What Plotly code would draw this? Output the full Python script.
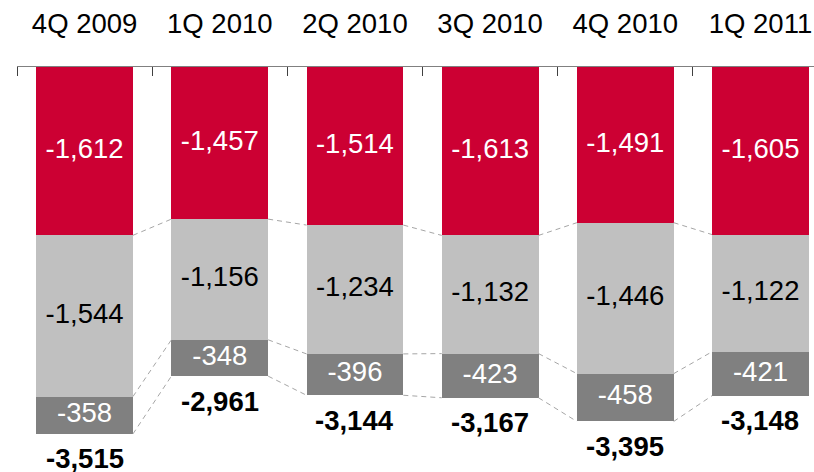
import plotly.graph_objects as go

categories = ["4Q 2009", "1Q 2010", "2Q 2010", "3Q 2010", "4Q 2010", "1Q 2011"]
red_vals = [-1612, -1457, -1514, -1613, -1491, -1605]
light_vals = [-1544, -1156, -1234, -1132, -1446, -1122]
dark_vals = [-358, -348, -396, -423, -458, -421]
totals = [-3515, -2961, -3144, -3167, -3395, -3148]

RED = "#CC0033"
LIGHT = "#C0C0C0"
DARK = "#808080"
FONT = "Liberation Sans, Arial, sans-serif"
FS = 27.5
BW = 0.716

xs = list(range(len(categories)))

fig = go.Figure()
for vals, col in [(red_vals, RED), (light_vals, LIGHT), (dark_vals, DARK)]:
    fig.add_trace(go.Bar(x=xs, y=vals, width=BW, marker=dict(color=col, line=dict(width=0)),
                         hoverinfo="skip", showlegend=False))

# cumulative levels
c1 = red_vals
c2 = [a + b for a, b in zip(red_vals, light_vals)]
c3 = [a + b + c for a, b, c in zip(red_vals, light_vals, dark_vals)]

# dashed connectors
lx, ly = [], []
for i in range(len(xs) - 1):
    for lev in (c1, c2, c3):
        lx += [xs[i] + BW / 2, xs[i + 1] - BW / 2, None]
        ly += [lev[i], lev[i + 1], None]
fig.add_trace(go.Scatter(x=lx, y=ly, mode="lines", line=dict(color="#A6A6A6", width=1, dash="5px,4px"),
                         hoverinfo="skip", showlegend=False))

# segment labels
def fmt(v):
    return f"{v:,}"

for vals, base, col in [(red_vals, [0] * 6, "white"), (light_vals, c1, "black"), (dark_vals, c2, "white")]:
    fig.add_trace(go.Scatter(x=xs, y=[b + v / 2 for b, v in zip(base, vals)], mode="text",
                             text=[fmt(v) for v in vals], textposition="middle center",
                             textfont=dict(family=FONT, size=FS, color=col),
                             hoverinfo="skip", showlegend=False))

for i, t in enumerate(totals):
    fig.add_annotation(x=xs[i], y=c3[i], text=f"<b>{fmt(t)}</b>", showarrow=False,
                       yanchor="middle", yshift=-25, font=dict(family=FONT, size=FS, color="black"))

fig.update_layout(
    width=814, height=472,
    margin=dict(l=17, r=0, t=67, b=0, autoexpand=False),
    plot_bgcolor="white", paper_bgcolor="white",
    barmode="relative", bargap=0,
    xaxis=dict(range=[-0.5, 5.396], side="top", showline=True, linecolor="#808080", linewidth=1,
               tickmode="array", tickvals=xs, ticktext=categories, ticks="",
               ticklabelstandoff=22, automargin=False,
               tickfont=dict(family=FONT, size=FS, color="black"),
               minor=dict(tickmode="array", tickvals=[x - 0.5 for x in range(7)], ticks="inside",
                          ticklen=9, tickcolor="#404040", tickwidth=1, showgrid=False),
               showgrid=False, zeroline=False, fixedrange=True),
    yaxis=dict(range=[-3879, 0], visible=False, showgrid=False, zeroline=False, automargin=False,
               fixedrange=True),
)

fig.write_html("out.html", config={"displayModeBar": False, "staticPlot": True},
               post_script="document.body.style.margin='0';document.body.style.overflow='hidden';")
